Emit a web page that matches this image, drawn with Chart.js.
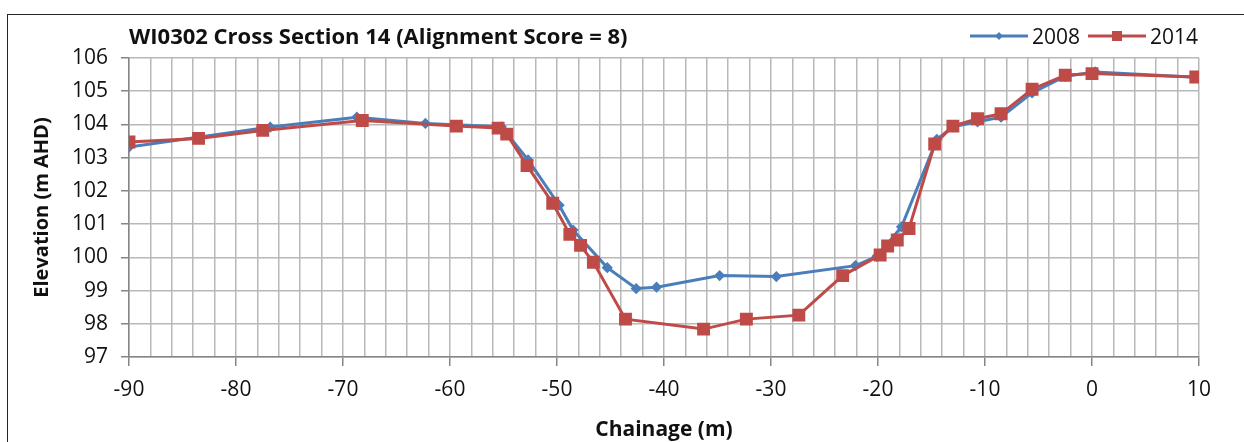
<!DOCTYPE html>
<html>
<head>
<meta charset="utf-8">
<script src="https://cdn.jsdelivr.net/npm/chart.js@4/dist/chart.umd.min.js"></script>
<style>
  html, body { margin: 0; padding: 0; background: #fff; }
  #wrap { position: relative; width: 1244px; height: 442px; overflow: hidden; }
  #frame { position: absolute; left: 7px; top: 14px; width: 1260px; height: 460px; border: 1.5px solid #262626; box-sizing: border-box; }
  #c { position: absolute; left: 0; top: 0; }
  #title { position: absolute; left: 129px; top: 20px; line-height: 32px; font: bold 22px "Open Sans", sans-serif; color: #111; white-space: nowrap; }
  #legend { position: absolute; right: 46px; top: 20px; height: 32px; display: flex; align-items: center; font: 21px "Open Sans", sans-serif; color: #111; }
  .item { display: flex; align-items: center; margin-left: 8px; }
  .item svg { margin-right: 4px; }
</style>
</head>
<body>
<div id="wrap">
  <div id="frame"></div>
  <canvas id="c" width="1244" height="442"></canvas>
  <div id="title"></div>
  <div id="legend"></div>
</div>
<script>
// ---- data ----
const chartTitle = "WI0302 Cross Section 14 (Alignment Score = 8)";
const xTitle = "Chainage (m)";
const yTitle = "Elevation (m AHD)";
const seriesNames = ["2008", "2014"];

const chainage2008 = [-90, -76.8, -68.7, -62.3, -55.2, -52.7, -49.8, -48.5, -45.3, -42.6, -40.7, -34.8, -29.5, -22.1, -20.1, -17.8, -14.5, -13.0, -10.7, -8.5, -5.6, -2.5, 0.3, 9.7];
const elev2008 =    [103.32, 103.92, 104.22, 104.03, 103.93, 102.93, 101.57, 100.82, 99.69, 99.06, 99.10, 99.45, 99.42, 99.75, 100.03, 100.92, 103.55, 103.93, 104.08, 104.22, 104.95, 105.45, 105.58, 105.42];

const chainage2014 = [-90, -83.5, -77.5, -68.2, -59.4, -55.5, -54.7, -52.8, -50.4, -48.8, -47.8, -46.6, -43.6, -36.3, -32.3, -27.4, -23.3, -19.8, -19.1, -18.2, -17.1, -14.7, -13.0, -10.7, -8.5, -5.6, -2.5, 0.0, 9.7];
const elev2014 =    [103.47, 103.58, 103.82, 104.12, 103.95, 103.89, 103.71, 102.76, 101.63, 100.69, 100.36, 99.85, 98.14, 97.84, 98.14, 98.26, 99.45, 100.07, 100.34, 100.52, 100.87, 103.41, 103.95, 104.17, 104.32, 105.06, 105.48, 105.53, 105.43];

const xMin = -90, xMax = 10, xMinorStep = 2, xMajorStep = 10;
const yMin = 97, yMax = 106, yStep = 1;

// ---- styles ----
const colors = ["#4a7ebb", "#be4b48"];
const textColor = "#111";
const gridColor = "#b8b8b8";
const axisColor = "#868686";
const fontFamily = "'Open Sans', sans-serif";

const toPts = (xs, ys) => xs.map((x, i) => ({ x: x, y: ys[i] }));

document.getElementById('title').textContent = chartTitle;

const datasets = [
  {
    label: seriesNames[0],
    data: toPts(chainage2008, elev2008),
    borderColor: colors[0], backgroundColor: colors[0],
    borderWidth: 3, pointStyle: 'rectRot', pointRadius: 3.5,
    showLine: true, tension: 0, order: 1
  },
  {
    label: seriesNames[1],
    data: toPts(chainage2014, elev2014),
    borderColor: colors[1], backgroundColor: colors[1],
    borderWidth: 3, pointStyle: 'rect', pointRadius: 7,
    showLine: true, tension: 0, order: 0
  }
];

// HTML legend built from the datasets
const legend = document.getElementById('legend');
datasets.forEach((d, i) => {
  const item = document.createElement('div');
  item.className = 'item';
  const ns = 'http://www.w3.org/2000/svg';
  const svg = document.createElementNS(ns, 'svg');
  svg.setAttribute('width', '58'); svg.setAttribute('height', '14');
  const line = document.createElementNS(ns, 'line');
  line.setAttribute('x1', '0'); line.setAttribute('x2', '58');
  line.setAttribute('y1', '7'); line.setAttribute('y2', '7');
  line.setAttribute('stroke', d.borderColor); line.setAttribute('stroke-width', '3');
  svg.appendChild(line);
  if (d.pointStyle === 'rect') {
    const r = document.createElementNS(ns, 'rect');
    r.setAttribute('x', '24'); r.setAttribute('y', '2'); r.setAttribute('width', '10'); r.setAttribute('height', '10');
    r.setAttribute('fill', d.borderColor);
    svg.appendChild(r);
  } else {
    const p = document.createElementNS(ns, 'polygon');
    p.setAttribute('points', '29,3 33,7 29,11 25,7');
    p.setAttribute('fill', d.borderColor);
    svg.appendChild(p);
  }
  const t = document.createElement('span');
  t.textContent = d.label;
  item.appendChild(svg); item.appendChild(t);
  legend.appendChild(item);
});

new Chart(document.getElementById('c'), {
  type: 'scatter',
  data: { datasets: datasets },
  options: {
    responsive: false,
    animation: false,
    devicePixelRatio: 1,
    layout: { padding: { left: 0, top: 58, right: 45, bottom: 0 } },
    plugins: { legend: { display: false }, title: { display: false }, tooltip: { enabled: false } },
    scales: {
      x: {
        type: 'linear', min: xMin, max: xMax,
        afterFit: (s) => { s.height = 85; },
        ticks: {
          stepSize: xMinorStep, autoSkip: false, maxRotation: 0, padding: 11,
          color: textColor, font: { family: fontFamily, size: 21 },
          callback: (v) => (Math.round(v) % xMajorStep === 0 ? String(Math.round(v)) : '')
        },
        grid: {
          color: gridColor, lineWidth: 1.5, tickLength: 9,
          tickColor: (ctx) => (ctx.tick && Math.round(ctx.tick.value) % xMajorStep === 0 ? axisColor : 'rgba(0,0,0,0)')
        },
        border: { display: true, color: axisColor, width: 1.5 },
        title: {
          display: true, text: xTitle, color: textColor,
          font: { family: fontFamily, size: 21, weight: 'bold' },
          padding: { top: 0, bottom: -1 }
        }
      },
      y: {
        type: 'linear', min: yMin, max: yMax,
        afterFit: (s) => { s.width = 129; },
        ticks: {
          stepSize: yStep, padding: 13,
          color: textColor, font: { family: fontFamily, size: 21 }
        },
        grid: { color: gridColor, lineWidth: 1.5, tickLength: 8, tickColor: axisColor },
        border: { display: true, color: axisColor, width: 1.5 },
        title: {
          display: true, text: yTitle, color: textColor,
          font: { family: fontFamily, size: 20, weight: 'bold' },
          padding: { top: 30, bottom: 0 }
        }
      }
    }
  }
});
</script>
</body>
</html>
